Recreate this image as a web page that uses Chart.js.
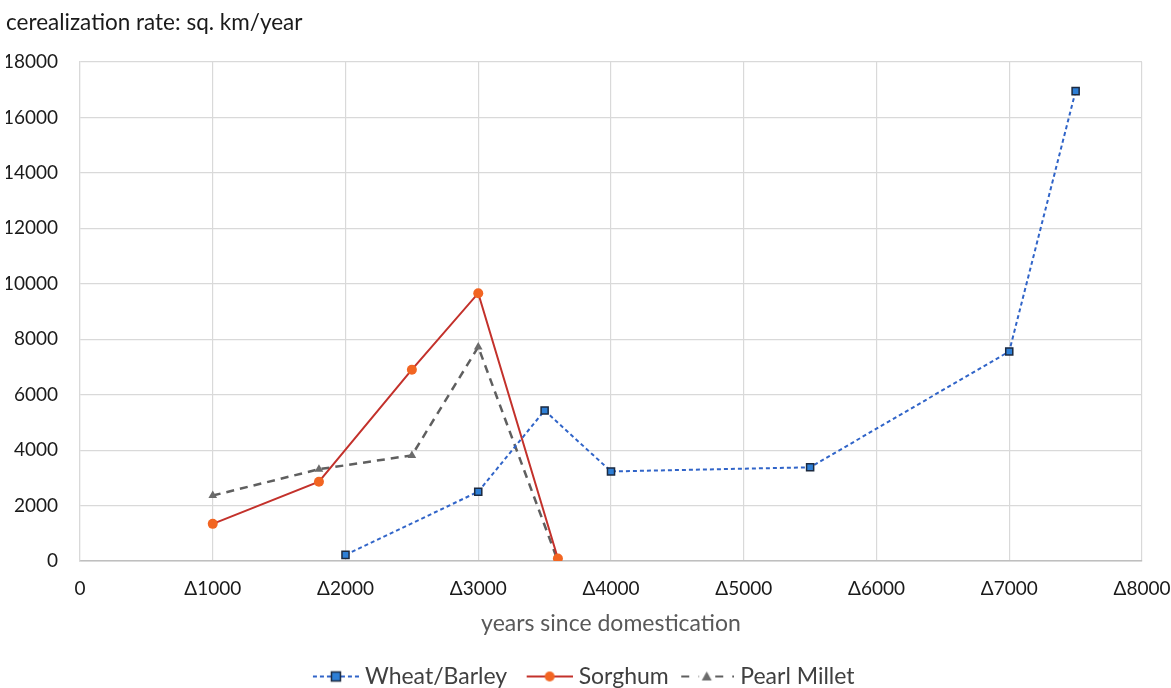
<!DOCTYPE html>
<html>
<head>
<meta charset="utf-8">
<script src="https://cdn.jsdelivr.net/npm/chart.js@4/dist/chart.umd.min.js"></script>
<style>
html,body{margin:0;padding:0;background:#fff;}
#wrap{width:1171px;height:688px;position:relative;}
</style>
</head>
<body>
<div id="wrap"><canvas id="c" width="1171" height="688"></canvas></div>
<script>
const wheatX = [2000, 3000, 3500, 4000, 5500, 7000, 7500];
const wheatY = [220, 2500, 5430, 3230, 3380, 7560, 16950];
const sorghumX = [1000, 1800, 2500, 3000, 3600];
const sorghumY = [1340, 2860, 6900, 9660, 90];
const milletX = [1000, 1800, 2500, 3000, 3600];
const milletY = [2360, 3310, 3810, 7720, 0];
const seriesNames = ['Wheat/Barley', 'Sorghum', 'Pearl Millet'];
const xTickValues = [0, 1000, 2000, 3000, 4000, 5000, 6000, 7000, 8000];
const yTickValues = [0, 2000, 4000, 6000, 8000, 10000, 12000, 14000, 16000, 18000];
const titleText = 'cerealization rate: sq. km/year';
const xTitleText = 'years since domestication';

const FONT = 'Lato, "Open Sans", sans-serif';
const LEG_W = 60;          // legend box width
const GLYPH_W = LEG_W + 11; // canvas width so that glyph ends ~6px before text

function pts(xs, ys){ return xs.map((x,i)=>({x:x, y:ys[i]})); }

function legendGlyph(kind){
  const cv = document.createElement('canvas');
  const len = (kind===2 ? 55 : 46);
  const off = GLYPH_W - len;
  cv.width = GLYPH_W; cv.height = 16;
  const g = cv.getContext('2d');
  g.lineWidth = 2;
  const cx = off + len/2;
  if(kind===0){
    g.strokeStyle = '#3064c8'; g.setLineDash([4,3]);
    g.beginPath(); g.moveTo(off,8); g.lineTo(off+len,8); g.stroke();
    g.setLineDash([]);
    g.fillStyle = '#2e7fd6'; g.fillRect(cx-4.5,3.5,9,9);
    g.strokeStyle = '#1c2a40'; g.lineWidth = 1.5; g.strokeRect(cx-4.5,3.5,9,9);
  } else if(kind===1){
    g.strokeStyle = '#c3312b';
    g.beginPath(); g.moveTo(off,8); g.lineTo(off+len,8); g.stroke();
    g.fillStyle = '#f26522'; g.beginPath(); g.arc(cx,8,5,0,Math.PI*2); g.fill();
  } else {
    g.strokeStyle = '#5f5f5f'; g.setLineDash([8,9]);
    g.beginPath(); g.moveTo(off+2,8); g.lineTo(off+len,8); g.stroke();
    g.setLineDash([]);
    g.fillStyle = '#fff'; g.fillRect(cx-8,2,16,12);
    g.fillStyle = '#6b6b6b';
    g.beginPath(); g.moveTo(cx,3); g.lineTo(cx+5,12); g.lineTo(cx-5,12); g.closePath(); g.fill();
  }
  return cv;
}
const glyphs = [legendGlyph(0), legendGlyph(1), legendGlyph(2)];

new Chart(document.getElementById('c'), {
  type: 'line',
  data: {
    datasets: [
      {
        label: seriesNames[0], data: pts(wheatX, wheatY),
        borderColor: '#3064c8', borderWidth: 2, borderDash: [4,3],
        pointStyle: 'rect', pointRadius: 5, pointHoverRadius: 5,
        pointBackgroundColor: '#2e7fd6', pointBorderColor: '#1c2a40', pointBorderWidth: 1.5,
        tension: 0, fill: false
      },
      {
        label: seriesNames[1], data: pts(sorghumX, sorghumY),
        borderColor: '#c3312b', borderWidth: 2,
        pointStyle: 'circle', pointRadius: 5, pointHoverRadius: 5,
        pointBackgroundColor: '#f26522', pointBorderColor: '#f26522', pointBorderWidth: 0,
        tension: 0, fill: false
      },
      {
        label: seriesNames[2], data: pts(milletX, milletY),
        borderColor: '#5f5f5f', borderWidth: 2.5, borderDash: [8,6],
        pointStyle: 'triangle', pointRadius: 5, pointHoverRadius: 5,
        pointBackgroundColor: '#6b6b6b', pointBorderColor: '#6b6b6b', pointBorderWidth: 0,
        tension: 0, fill: false
      }
    ]
  },
  options: {
    responsive: false,
    animation: false,
    layout: { padding: { left: 6, right: 29, top: 0, bottom: -10 } },
    plugins: {
      title: {
        display: true, text: titleText, align: 'start',
        color: '#1a1a1a', font: { family: FONT, size: 22.5, weight: 'normal' },
        padding: { top: 9, bottom: 26 }
      },
      legend: {
        position: 'bottom',
        labels: {
          usePointStyle: true, pointStyleWidth: LEG_W,
          color: '#404040', font: { family: FONT, size: 23 },
          padding: 0,
          generateLabels: (chart) => chart.data.datasets.map((d,i)=>({
            text: d.label, pointStyle: glyphs[i], fillStyle: 'transparent',
            strokeStyle: 'transparent', lineWidth: 0, hidden: false, datasetIndex: i,
            fontColor: '#404040'
          }))
        }
      },
      tooltip: { enabled: false }
    },
    scales: {
      x: {
        type: 'linear', min: 0, max: 8000,
        afterBuildTicks: (s) => { s.ticks = xTickValues.map(v=>({value:v})); },
        afterFit: (s) => { s.paddingLeft = 0; s.paddingRight = 0; s.height = 104; },
        ticks: {
          color: '#1a1a1a', font: { family: FONT, size: 19 }, padding: 16,
          maxRotation: 0, autoSkip: false,
          callback: (v) => v === 0 ? '0' : '\u0394' + v
        },
        grid: { color: '#d9d9d9', lineWidth: 1.2, drawTicks: false },
        border: { display: true, color: '#bfbfbf', width: 1.5 },
        title: { display: true, text: xTitleText, color: '#595959',
          font: { family: FONT, size: 23 }, padding: { top: 9, bottom: 28 } }
      },
      y: {
        type: 'linear', min: 0, max: 18000,
        afterBuildTicks: (s) => { s.ticks = yTickValues.map(v=>({value:v})); },
        afterFit: (s) => { s.width = 74; },
        ticks: { color: '#1a1a1a', font: { family: FONT, size: 19 }, padding: 22,
          callback: (v) => String(v) },
        grid: { color: '#d9d9d9', lineWidth: 1.2, drawTicks: false },
        border: { display: true, color: '#d9d9d9', width: 1.2 }
      }
    }
  }
});
</script>
</body>
</html>
